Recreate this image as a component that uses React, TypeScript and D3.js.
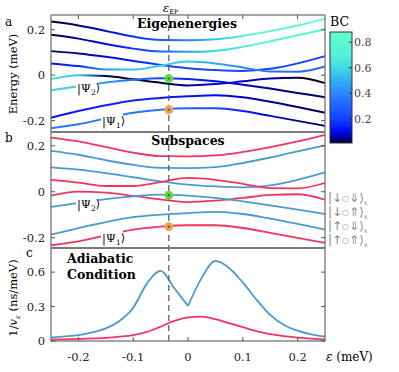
import React from 'react';
import * as d3 from 'd3';

// detuning grid (meV) used for the energy levels
const eps = [-0.25, -0.2, -0.15, -0.1, -0.05, 0, 0.05, 0.1, 0.15, 0.2, 0.25];

// levels of the two subspaces (meV)
const redA = [0.236, 0.219, 0.195, 0.17, 0.155, 0.154, 0.158, 0.173, 0.194, 0.219, 0.248];
const blueB = [0.178, 0.161, 0.137, 0.117, 0.104, 0.103, 0.107, 0.125, 0.149, 0.176, 0.202];
const blueC = [0.106, 0.096, 0.081, 0.063, 0.045, 0.031, 0.023, 0.019, 0.028, 0.052, 0.084];
const redD = [0.052, 0.04, 0.025, 0.025, 0.042, 0.06, 0.052, 0.034, 0.016, 0.015, 0.038];
const redE = [-0.017, 0.0, -0.004, -0.018, -0.033, -0.045, -0.039, -0.027, -0.014, -0.011, -0.035];
const blueF = [-0.066, -0.049, -0.032, -0.02, -0.013, -0.017, -0.027, -0.042, -0.059, -0.078, -0.097];
const blueG = [-0.187, -0.158, -0.132, -0.111, -0.1, -0.093, -0.088, -0.097, -0.117, -0.14, -0.165];
const redH = [-0.233, -0.216, -0.19, -0.165, -0.152, -0.146, -0.146, -0.158, -0.179, -0.201, -0.223];

// BC along each level (panel a colouring)
const bcA = [0.015, 0.04, 0.09, 0.17, 0.27, 0.38, 0.55, 0.68, 0.76, 0.82, 0.86];
const bcB = [0.02, 0.05, 0.09, 0.17, 0.3, 0.45, 0.6, 0.68, 0.72, 0.74, 0.75];
const bcC = [0.03, 0.05, 0.09, 0.14, 0.2, 0.22, 0.22, 0.22, 0.2, 0.2, 0.2];
const bcD = [0.12, 0.15, 0.45, 0.55, 0.58, 0.55, 0.48, 0.4, 0.35, 0.33, 0.33];
const bcE = [0.62, 0.55, 0.03, 0.0, 0.01, 0.06, 0.08, 0.08, 0.06, 0.01, 0.0];
const bcF = [0.6, 0.55, 0.45, 0.32, 0.22, 0.15, 0.1, 0.07, 0.05, 0.04, 0.03];
const bcG = [0.12, 0.14, 0.15, 0.15, 0.14, 0.12, 0.1, 0.07, 0.05, 0.03, 0.02];
const bcH = [0.35, 0.35, 0.35, 0.35, 0.34, 0.3, 0.22, 0.14, 0.08, 0.05, 0.03];

const levels = [redA, blueB, blueC, redD, redE, blueF, blueG, redH];
const levelBC = [bcA, bcB, bcC, bcD, bcE, bcF, bcG, bcH];
const levelSub = ['red', 'blue', 'blue', 'red', 'red', 'blue', 'blue', 'red'];

// adiabatic condition panel
const epsC = [-0.25, -0.225, -0.2, -0.175, -0.15, -0.125, -0.1, -0.075, -0.05, -0.025, 0,
  0.025, 0.05, 0.075, 0.1, 0.125, 0.15, 0.175, 0.2, 0.225, 0.25];
const invVBlue = [0.03, 0.04, 0.052, 0.075, 0.11, 0.175, 0.29, 0.5, 0.61, 0.46, 0.306,
  0.55, 0.697, 0.636, 0.51, 0.36, 0.227, 0.14, 0.09, 0.058, 0.038];
const invVRed = [0.012, 0.015, 0.018, 0.022, 0.028, 0.038, 0.052, 0.08, 0.125, 0.175, 0.205,
  0.212, 0.19, 0.155, 0.12, 0.085, 0.06, 0.042, 0.03, 0.02, 0.012];

const epsEP = -0.035;
const epDots = [-0.015, -0.152];
const epColors = ['#62dc3c', '#eea457'];

const xTicks = [-0.2, -0.1, 0, 0.1, 0.2];
const eTicks = [-0.2, 0, 0.2];
const vTicks = [0, 0.3, 0.6];
const bcTicks = [0.2, 0.4, 0.6, 0.8];
const kets = [['↓', '⇓'], ['↓', '⇑'], ['↑', '⇓'], ['↑', '⇑']];

const bcStops = [0, 0.04, 0.1, 0.2, 0.3, 0.4, 0.5, 0.6, 0.7, 0.88];
const bcColors = ['#000010', '#000080', '#0008f8', '#1440ff', '#1f62ff', '#2a88ff', '#30b0f4', '#3edbe2', '#55f2d6', '#62fdd0'];

const RED = '#f2355f';
const BLUE = '#4a9bd3';
const FONT = "'DejaVu Serif', serif";

export default function App() {
  const W = 399, H = 372;
  const x = d3.scaleLinear().domain([-0.25, 0.25]).range([51, 325]);
  const ya = d3.scaleLinear().domain([-0.25, 0.265]).range([132, 15]);
  const yb = d3.scaleLinear().domain([-0.245, 0.26]).range([248, 132]);
  const yc = d3.scaleLinear().domain([0, 0.81]).range([341, 248]);
  const bcScale = d3.scaleLinear<string>().domain(bcStops).range(bcColors).interpolate(d3.interpolateRgb);
  const yBar = d3.scaleLinear().domain([0.01, 0.88]).range([143, 32]);

  const lineA = d3.line<number>().x((_, i) => x(eps[i])).y(d => ya(d)).curve(d3.curveMonotoneX);
  const lineB = d3.line<number>().x((_, i) => x(eps[i])).y(d => yb(d)).curve(d3.curveMonotoneX);
  const lineC = d3.line<[number, number]>().x(d => x(d[0])).y(d => yc(d[1])).curve(d3.curveMonotoneX);

  const bluePts = epsC.map((e, i) => [e, invVBlue[i]] as [number, number]);
  const redPts = epsC.map((e, i) => [e, invVRed[i]] as [number, number]);
  const mid = epsC.indexOf(0);

  const xEP = x(epsEP);
  const barStops = d3.range(0, 1.0001, 0.02);

  const ket = (lx: number, ly: number, n: string, key: string) => (
    <g key={key}>
      <rect x={lx - 1} y={ly - 11} width={22} height={15} fill="#fff" />
      <text x={lx} y={ly} fontSize={11.5} fontFamily={FONT}>
        |Ψ<tspan dy={3} fontSize={7.5}>{n}</tspan><tspan dy={-3}>⟩</tspan>
      </text>
    </g>
  );

  return (
    <svg width={W} height={H} style={{ position: 'absolute', left: 0, top: 0, background: '#fff' }}>
      <defs>
        {levels.map((lv, k) => (
          <linearGradient key={k} id={`g${k}`} gradientUnits="userSpaceOnUse" x1={x(-0.25)} x2={x(0.25)} y1={0} y2={0}>
            {eps.map((e, i) => (
              <stop key={i} offset={(e + 0.25) / 0.5} stopColor={bcScale(levelBC[k][i])} />
            ))}
          </linearGradient>
        ))}
        <linearGradient id="bar" x1={0} x2={0} y1={1} y2={0}>
          {barStops.map((t, i) => (
            <stop key={i} offset={t} stopColor={bcScale(0.01 + t * 0.87)} />
          ))}
        </linearGradient>
      </defs>

      {/* panel a */}
      {levels.map((lv, k) => (
        <path key={k} d={lineA(lv) || ''} fill="none" stroke={`url(#g${k})`} strokeWidth={2} />
      ))}
      {/* panel b */}
      {levels.map((lv, k) => (
        <path key={k} d={lineB(lv) || ''} fill="none" stroke={levelSub[k] === 'red' ? RED : BLUE} strokeWidth={1.8} />
      ))}
      {/* panel c */}
      <path d={lineC(redPts) || ''} fill="none" stroke={RED} strokeWidth={1.8} />
      <path d={lineC(bluePts.slice(0, mid + 1)) || ''} fill="none" stroke={BLUE} strokeWidth={1.8} />
      <path d={lineC(bluePts.slice(mid)) || ''} fill="none" stroke={BLUE} strokeWidth={1.8} />

      {/* EP line */}
      <line x1={xEP} x2={xEP} y1={15} y2={341} stroke="#555" strokeWidth={1.2} strokeDasharray="6,4" />
      {[ya, yb].map((ys, p) =>
        epDots.map((e, i) => (
          <g key={`${p}${i}`}>
            <circle cx={xEP} cy={ys(e)} r={4.5} fill={epColors[i]} />
            <circle cx={xEP} cy={ys(e)} r={1.3} fill="#666" />
          </g>
        ))
      )}

      {ket(77, 92, '2', 'a2')}
      {ket(102, 125, '1', 'a1')}
      {ket(77, 208, '2', 'b2')}
      {ket(102, 242, '1', 'b1')}

      {/* frames */}
      <rect x={51} y={15} width={274} height={326} fill="none" stroke="#6a6a6a" strokeWidth={1.2} />
      <line x1={51} x2={325} y1={132} y2={132} stroke="#7a7a7a" strokeWidth={1.8} />
      <line x1={51} x2={325} y1={248} y2={248} stroke="#7a7a7a" strokeWidth={1.8} />

      {/* ticks */}
      {xTicks.map(t => (
        <g key={t}>
          <line x1={x(t)} x2={x(t)} y1={341} y2={337} stroke="#555" />
          <line x1={x(t)} x2={x(t)} y1={15} y2={19} stroke="#555" />
          <text x={x(t)} y={361} textAnchor="middle" fontSize={11.5} fontFamily={FONT} fill="#222">{t}</text>
        </g>
      ))}
      {eTicks.map(t => (
        <g key={t}>
          <line x1={51} x2={55} y1={ya(t)} y2={ya(t)} stroke="#555" />
          <line x1={325} x2={321} y1={ya(t)} y2={ya(t)} stroke="#555" />
          <text x={45} y={ya(t) + 4} textAnchor="end" fontSize={11.5} fontFamily={FONT} fill="#222">{t}</text>
          <line x1={51} x2={55} y1={yb(t)} y2={yb(t)} stroke="#555" />
          <line x1={325} x2={321} y1={yb(t)} y2={yb(t)} stroke="#555" />
          <text x={45} y={yb(t) + 4} textAnchor="end" fontSize={11.5} fontFamily={FONT} fill="#222">{t}</text>
        </g>
      ))}
      {vTicks.map(t => (
        <g key={t}>
          <line x1={51} x2={55} y1={yc(t)} y2={yc(t)} stroke="#555" />
          <line x1={325} x2={321} y1={yc(t)} y2={yc(t)} stroke="#555" />
          <text x={45} y={yc(t) + 4} textAnchor="end" fontSize={11.5} fontFamily={FONT} fill="#222">{t}</text>
        </g>
      ))}

      {/* titles */}
      <text x={187} y={28} textAnchor="middle" fontSize={12.5} fontWeight="bold" fontFamily={FONT}>Eigenenergies</text>
      <text x={188} y={145} textAnchor="middle" fontSize={12.5} fontWeight="bold" fontFamily={FONT}>Subspaces</text>
      <text x={67} y={263} fontSize={12.5} fontWeight="bold" fontFamily={FONT}>Adiabatic</text>
      <text x={67} y={279} fontSize={12.5} fontWeight="bold" fontFamily={FONT}>Condition</text>

      <text x={5} y={26} fontSize={12} fontFamily={FONT}>a</text>
      <text x={5} y={142} fontSize={12} fontFamily={FONT}>b</text>
      <text x={26} y={257} fontSize={12} fontFamily={FONT}>c</text>

      <text x={163} y={12} fontSize={11.5} fontStyle="italic" fontFamily={FONT}>ε<tspan dy={2} fontSize={6.5} fontStyle="normal">EP</tspan></text>

      <text transform="translate(17,74) rotate(-90)" textAnchor="middle" fontSize={11.5} fontFamily={FONT}>Energy (meV)</text>
      <text transform="translate(17,298) rotate(-90)" textAnchor="middle" fontSize={11.5} fontFamily={FONT}>
        1/<tspan fontStyle="italic">v</tspan><tspan dy={3} fontSize={7} fontStyle="italic">ε</tspan><tspan dy={-3}> (ns/meV)</tspan>
      </text>
      <text x={326} y={361} fontSize={12} fontFamily={FONT}><tspan fontStyle="italic">ε</tspan> (meV)</text>

      {/* kets of the subspaces */}
      {kets.map((k, i) => (
        <text key={i} x={328} y={202 + i * 14} fontSize={12} fontFamily="'DejaVu Sans', sans-serif" fill="#888">
          |{k[0]}<tspan fontSize={8} dy={-1}>○</tspan><tspan dy={1}>{k[1]}</tspan>⟩<tspan dy={3} fontSize={7} fontStyle="italic" fontFamily={FONT}>x</tspan>
        </text>
      ))}

      {/* colour bar */}
      <text x={330} y={26} fontSize={12.5} fontFamily={FONT}>BC</text>
      <rect x={330} y={32} width={22} height={111} fill="url(#bar)" stroke="#333" strokeWidth={1} />
      {bcTicks.map(t => (
        <g key={t}>
          <line x1={352} x2={349} y1={yBar(t)} y2={yBar(t)} stroke="#333" />
          <text x={354} y={yBar(t) + 4} fontSize={11} fontFamily={FONT} fill="#444">{t}</text>
        </g>
      ))}
    </svg>
  );
}
